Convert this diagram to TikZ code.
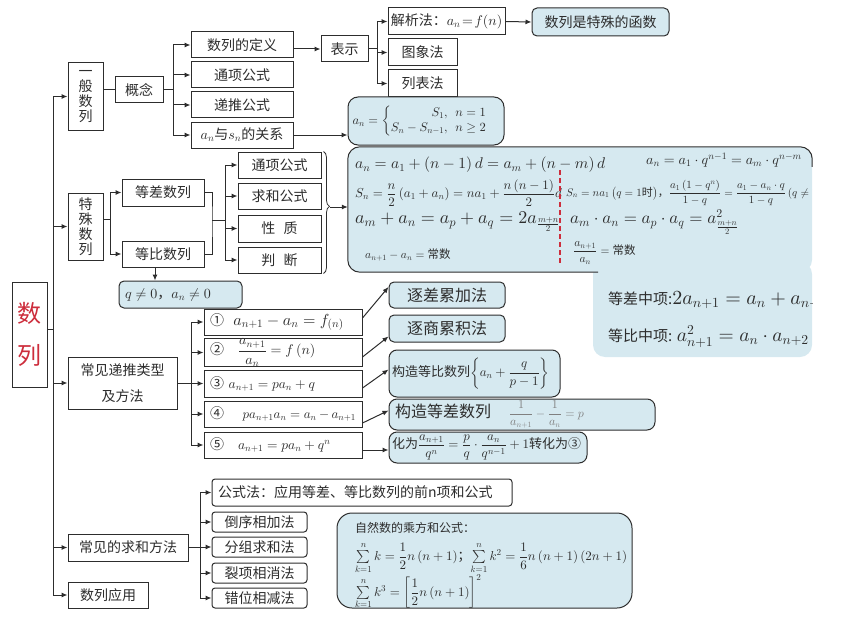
\documentclass[tikz,border=0pt]{standalone}
\usepackage{amsmath}
\usepackage[no-math]{fontspec}
\setmainfont{Noto Sans CJK SC}
\DeclareFontShape{OT1}{cmr}{m}{n}{<-> cmr10}{}
\DeclareFontShape{OML}{cmm}{m}{it}{<-> cmmi10}{}
\DeclareFontShape{OMS}{cmsy}{m}{n}{<-> cmsy10}{}
\DeclareFontShape{OMX}{cmex}{m}{n}{<-> cmex10}{}
\usetikzlibrary{arrows.meta,calc,decorations.pathreplacing}
\definecolor{blu}{RGB}{214,233,240}
\definecolor{lc}{RGB}{45,45,45}
\definecolor{rd}{RGB}{205,45,60}
\newcommand{\fsz}[1]{\fontsize{#1}{#1}\selectfont}
\begin{document}
\begin{tikzpicture}[x=1pt,y=-1pt,
  bx/.style={draw=lc, line width=1pt, fill=white, inner sep=0pt, font=\fsz{14}, text=lc},
  bbx/.style={bx, fill=blu, rounded corners=5pt},
  rbx/.style={bx, rounded corners=3pt},
  ln/.style={draw=lc, line width=1pt},
  arr/.style={ln, -{Latex[length=6pt,width=5pt]}},
  txt/.style={inner sep=0pt, text=lc}]
\useasboundingbox (0,0) rectangle (853,623);
% root and trunk
\node[bx, minimum width=35pt, minimum height=105pt, font=\fsz{24}, text=rd, align=center] (root) at (29.5,334.5) {数\\[18pt]列};
\coordinate (tr) at (53,97);
\coordinate (trb) at (53,595);
\coordinate (rj) at (53,329);
\draw[ln] (tr) -- (trb);
\draw[ln] (root.east |- rj) -- (rj);
% level 1
\node[bx, minimum width=35pt, minimum height=67pt, align=center, font=\fontsize{14}{15}\selectfont] (g1) at (85.5,96.5) {一\\般\\数\\列};
\node[bx, minimum width=35pt, minimum height=67pt, align=center, font=\fontsize{14}{15}\selectfont] (ts) at (85.5,226.5) {特\\殊\\数\\列};
\node[bx, minimum width=109pt, minimum height=52pt, align=center, font=\fontsize{14}{26}\selectfont] (rc) at (122.5,383) {常见递推类型\\及方法};
\node[bx, minimum width=120pt, minimum height=27pt] (sm) at (128,547.5) {常见的求和方法};
\node[bx, minimum width=80pt, minimum height=26pt] (sy) at (108,595) {数列应用};
\foreach \n in {g1,ts,rc,sm,sy} \draw[arr] (\n.west -| tr) -- (\n.west);
% general sequence
\node[bx, minimum width=48pt, minimum height=26pt] (gn) at (139,90) {概念};
\draw[ln] (g1.east |- gn.west) -- (gn.west);
\node[bx, minimum width=102pt, minimum height=26pt] (def) at (242,45) {数列的定义};
\node[bx, minimum width=102pt, minimum height=26pt] (tx) at (242,75) {通项公式};
\node[bx, minimum width=102pt, minimum height=26pt] (dt) at (242,105) {递推公式};
\node[bx, minimum width=102pt, minimum height=26pt] (rel) at (242,135) {$a_n$与$s_n$的关系};
\coordinate (f1) at (173,90);
\draw[ln] (gn.east) -- (f1);
\draw[ln] (f1 |- def.west) -- (f1 |- rel.west);
\foreach \n in {def,tx,dt,rel} \draw[arr] (f1 |- \n.west) -- (\n.west);
\node[bx, minimum width=47pt, minimum height=26pt] (bs) at (344.5,49) {表示};
\draw[arr] (def.east |- bs.west) -- (bs.west);
\node[bx, minimum width=117pt, minimum height=27pt] (jx) at (446.5,21.5) {解析法：$a_n\!=\!f(n)$};
\node[bx, minimum width=69pt, minimum height=27pt] (tx2) at (422.5,52.5) {图象法};
\node[bx, minimum width=69pt, minimum height=27pt] (lb) at (422.5,83.5) {列表法};
\coordinate (f4) at (377,49);
\draw[ln] (bs.east) -- (f4);
\draw[ln] (f4 |- jx.west) -- (f4 |- lb.west);
\foreach \n in {jx,tx2,lb} \draw[arr] (f4 |- \n.west) -- (\n.west);
\node[bbx, minimum width=137pt, minimum height=28pt] (func) at (600.5,22) {数列是特殊的函数};
\draw[arr] (jx.east) -- (func.west);
\node[bbx, rounded corners=10pt, minimum width=156pt, minimum height=48pt, font=\fsz{12.5}] (pw) at (426,121)
  {$a_n=\begin{cases}\hfill S_1,\ \ n=1\\ S_n-S_{n-1},\ \ n\geq 2\end{cases}$};
\draw[arr] (rel.east) -- (rel.east -| pw.west);
% special sequences
\coordinate (f2) at (110,219);
\node[bx, minimum width=82pt, minimum height=27pt] (dc) at (163,192.5) {等差数列};
\node[bx, minimum width=82pt, minimum height=26pt] (db) at (163,254) {等比数列};
\draw[ln] (ts.east |- f2) -- (f2);
\draw[ln] (f2 |- dc.west) -- (f2 |- db.west);
\draw[arr] (f2 |- dc.west) -- (dc.west);
\draw[arr] (f2 |- db.west) -- (db.west);
\node[bx, minimum width=83pt, minimum height=26pt] (p1) at (279.5,165) {通项公式};
\node[bx, minimum width=83pt, minimum height=26pt] (p2) at (279.5,196) {求和公式};
\node[bx, minimum width=83pt, minimum height=27pt] (p3) at (279.5,228.5) {性\hspace{0.6em}质};
\node[bx, minimum width=83pt, minimum height=26pt] (p4) at (279.5,260) {判\hspace{0.6em}断};
\coordinate (j2) at (212,220);
\coordinate (f3) at (225,220);
\draw[ln] (dc.east) -| (j2) |- (db.east);
\draw[ln] (j2) -- (f3);
\draw[ln] (f3 |- p1.west) -- (f3 |- p4.west);
\foreach \n in {p1,p2,p3,p4} \draw[arr] (f3 |- \n.west) -- (\n.west);
\draw[ln, line width=0.8pt, decorate, decoration={brace, amplitude=6pt, aspect=0.45}] ([xshift=2pt]p1.north east) -- ([xshift=2pt]p4.south east);
\coordinate (brt) at (330,207);
\node[bbx, minimum width=123pt, minimum height=27pt, text width=111pt, align=left] (qb) at (180.5,294.5) {$q\neq0$，$a_n\neq0$};
\coordinate (dq) at ([xshift=-8pt]db.south);
\draw[arr] (dq) -- (dq |- qb.north);
% big formula box
\begin{scope}
\clip (0,0) rectangle (812.5,623);
\node[fill=blu, rounded corners=12pt, minimum width=219pt, minimum height=95pt, inner sep=0pt] (lr) at (702.5,309.5) {};
\node[fill=blu, rounded corners=12pt, minimum width=464pt, minimum height=125pt, inner sep=0pt] (bb) at (580,209.5) {};
\draw[ln, rounded corners=12pt] (598,272) -- (bb.south west) -- (bb.north west) -- (bb.north east) -- ([yshift=-20pt]bb.north east);
\node[txt, anchor=west, font=\fsz{15.5}] (b1) at (355,165) {$a_n=a_1+\left(n-1\right)d=a_m+\left(n-m\right)d$};
\node[txt, anchor=west, font=\fsz{13}] (b2) at (355,193) {$S_n=\dfrac{n}{2}\left(a_1+a_n\right)=na_1+\dfrac{n\left(n-1\right)}{2}d$};
\node[txt, anchor=west, font=\fsz{18}] (b3) at (355,222) {$a_m+a_n=a_p+a_q=2a_{\frac{m+n}{2}}$};
\node[txt, anchor=west, font=\fsz{11.5}] (b4) at (365,255) {$a_{n+1}-a_n=\text{常数}$};
\draw[rd, line width=1.5pt, dash pattern=on 5pt off 3pt] (560,170) -- (560,263);
\node[txt, anchor=east, font=\fsz{14}] (b5) at (802,160) {$a_n=a_1\cdot q^{n-1}=a_m\cdot q^{n-m}$};
\node[txt, anchor=west, font=\fsz{11}] (b6) at (566,193) {$S_n=na_1\left(q=1\text{时}\right)$，$\dfrac{a_1\left(1-q^n\right)}{1-q}=\dfrac{a_1-a_n\cdot q}{1-q}\left(q\neq1\right)$};
\node[txt, anchor=west, font=\fsz{17}] (b7) at (570,222) {$a_m\cdot a_n=a_p\cdot a_q=a^2_{\frac{m+n}{2}}$};
\node[txt, anchor=west, font=\fsz{11.5}] (b8) at (573,253) {$\dfrac{a_{n+1}}{a_n}=\text{常数}$};
\node[txt, anchor=west, font=\fsz{15}] (l1) at (608,300) {等差中项:{\fsz{20}$2a_{n+1}=a_n+a_{n+2}$}};
\node[txt, anchor=west, font=\fsz{15}] (l2) at (608,337) {等比中项: {\fsz{19.5}$a^2_{n+1}=a_n\cdot a_{n+2}$}};
\end{scope}
\draw[arr] (brt) -- (brt -| bb.west);
% recursion
\coordinate (f5) at (191,383);
\draw[ln] (rc.east) -- (f5);
\node[bx, minimum width=158pt, minimum height=26pt, text width=146pt, align=left] (r1) at (283,322) {①\ \ {\fsz{16}$a_{n+1}-a_n=f_{(n)}$}};
\node[bx, minimum width=158pt, minimum height=27pt, text width=146pt, align=left] (r2) at (283,352.5) {②\ \ \ {\fsz{14}$\dfrac{a_{n+1}}{a_n}=f\left(n\right)$}};
\node[bx, minimum width=158pt, minimum height=27pt, text width=146pt, align=left] (r3) at (283,383.5) {③\ {\fsz{13.5}$a_{n+1}=pa_n+q$}};
\node[bx, minimum width=158pt, minimum height=26pt, text width=146pt, align=left] (r4) at (283,414) {④\quad\ {\fsz{13}$pa_{n+1}a_n=a_n-a_{n+1}$}};
\node[bx, minimum width=158pt, minimum height=26pt, text width=146pt, align=left] (r5) at (283,445) {⑤\quad {\fsz{13.5}$a_{n+1}=pa_n+q^n$}};
\draw[ln] (f5 |- r1.west) -- (f5 |- r5.west);
\foreach \n in {r1,r2,r3,r4,r5} \draw[arr] (f5 |- \n.west) -- (\n.west);
\node[bbx, minimum width=116pt, minimum height=26pt, font=\fsz{16}] (m1) at (447,295) {逐差累加法};
\node[bbx, minimum width=116pt, minimum height=27pt, font=\fsz{16}] (m2) at (447,328.5) {逐商累积法};
\node[bbx, rounded corners=8pt, minimum width=171pt, minimum height=47pt, text width=165pt, align=left, font=\fsz{13}] (m3) at (474.5,373.5) {构造等比数列$\left\{a_n+\dfrac{q}{p-1}\right\}$};
\node[bbx, rounded corners=8pt, minimum width=266pt, minimum height=31pt, text width=254pt, align=left, font=\fsz{16}] (m4) at (522,414.5) {构造等差数列\hspace{18pt}{\color{gray}\fsz{12}$\dfrac{1}{a_{n+1}}-\dfrac{1}{a_n}=p$}};
\node[bbx, rounded corners=8pt, minimum width=198pt, minimum height=31pt, text width=192pt, align=left, font=\fsz{13}] (m5) at (488,447.5) {化为$\dfrac{a_{n+1}}{q^n}=\dfrac{p}{q}\cdot\dfrac{a_n}{q^{n-1}}+1$转化为③};
\draw[arr] ([yshift=4pt]r1.east) -- ([yshift=8pt]m1.west);
\draw[arr] ([yshift=-4.5pt]r2.east) -- ([yshift=-8pt]m2.west);
\draw[arr] ([yshift=-4.5pt]r3.east) -- ([yshift=4pt]m3.west);
\draw[arr] ([yshift=-9pt]r4.east) -- ([yshift=4pt]m4.west);
\coordinate (r5o) at ([yshift=-5pt]r5.east);
\draw[arr] (r5o) -- (r5o -| m5.west);
% sums
\coordinate (f6) at (200,547.5);
\draw[ln] (sm.east) -- (f6);
\node[rbx, minimum width=300pt, minimum height=27pt, text width=288pt, align=left] (s0) at (362,492.5) {公式法：应用等差、等比数列的前n项和公式};
\node[rbx, minimum width=95pt, minimum height=20pt] (s1) at (259.5,522) {倒序相加法};
\node[rbx, minimum width=95pt, minimum height=20pt] (s2) at (259.5,547) {分组求和法};
\node[rbx, minimum width=95pt, minimum height=20pt] (s3) at (259.5,573) {裂项相消法};
\node[rbx, minimum width=95pt, minimum height=20pt] (s4) at (259.5,598) {错位相减法};
\draw[ln] (f6 |- s0.west) -- (f6 |- s4.west);
\foreach \n in {s0,s1,s2,s3,s4} \draw[arr] (f6 |- \n.west) -- (\n.west);
\node[bbx, rounded corners=15pt, minimum width=295pt, minimum height=95pt] (nb) at (484.5,560.5) {};
\node[txt, anchor=west, font=\fsz{12}] (nt) at (355,528) {自然数的乘方和公式：};
\node[txt, anchor=west, font=\fsz{13}] (ns1) at (355,558) {$\sum\limits_{k=1}^{n}k=\dfrac12 n\left(n+1\right)$；$\sum\limits_{k=1}^{n}k^2=\dfrac16 n\left(n+1\right)\left(2n+1\right)$};
\node[txt, anchor=west, font=\fsz{13}] (ns2) at (355,592) {$\sum\limits_{k=1}^{n}k^3=\left[\dfrac12 n\left(n+1\right)\right]^2$};
\end{tikzpicture}
\end{document}
